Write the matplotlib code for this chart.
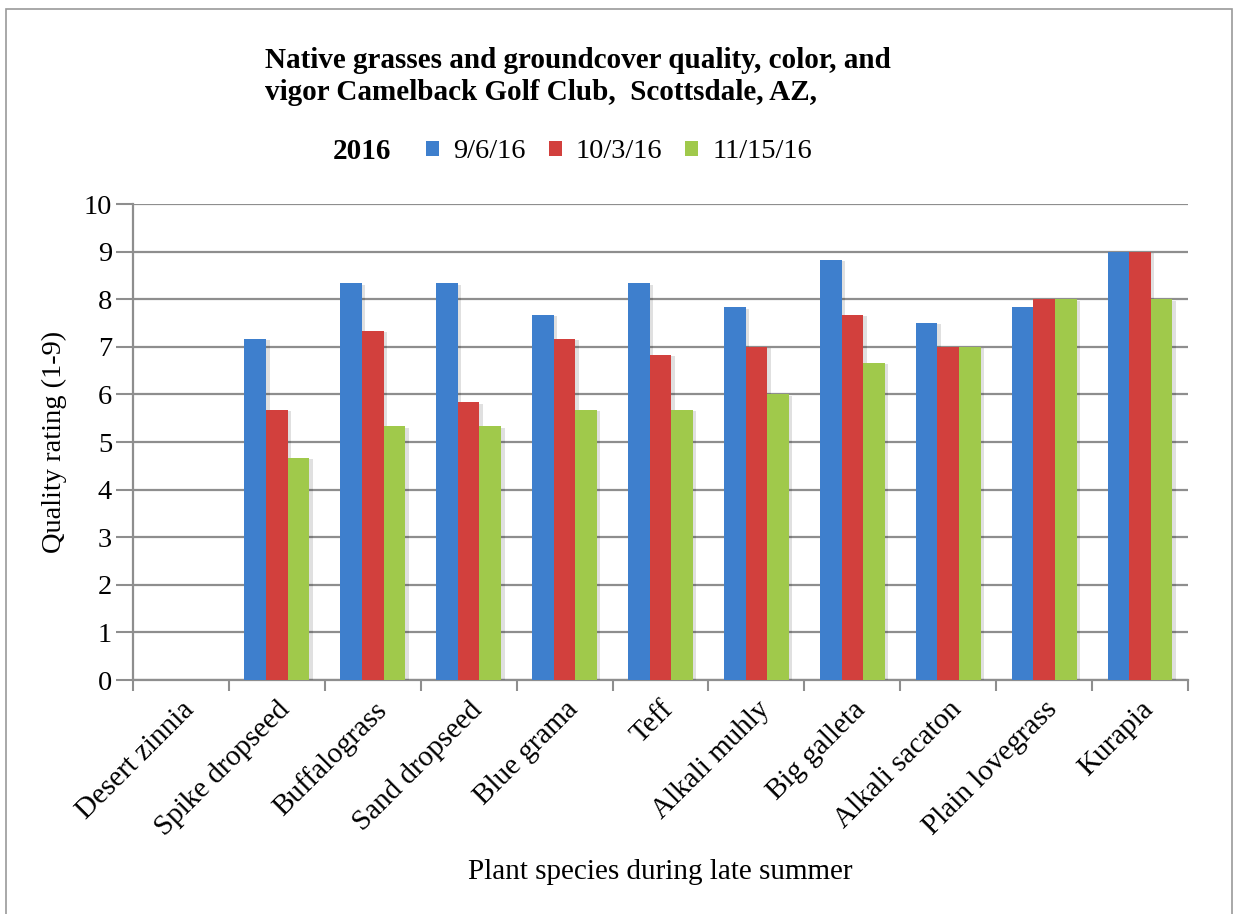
import numpy as np
import matplotlib.pyplot as plt
from matplotlib import patheffects as pe
from matplotlib.patches import Rectangle

species = ['Desert zinnia', 'Spike dropseed', 'Buffalograss', 'Sand dropseed',
           'Blue grama', 'Teff', 'Alkali muhly', 'Big galleta', 'Alkali sacaton',
           'Plain lovegrass', 'Kurapia']
dates = ['9/6/16', '10/3/16', '11/15/16']
sep6 = [0, 7.17, 8.33, 8.33, 7.67, 8.33, 7.83, 8.83, 7.5, 7.83, 9.0]
oct3 = [0, 5.67, 7.33, 5.83, 7.17, 6.83, 7.0, 7.67, 7.0, 8.0, 9.0]
nov15 = [0, 4.67, 5.33, 5.33, 5.67, 5.67, 6.0, 6.67, 7.0, 8.0, 8.0]
colors = ['#3e7fcd', '#d2403d', '#a0c94b']

plt.rcParams['font.family'] = ['Liberation Serif', 'DejaVu Serif']
grid_col = '#8e8e8e'
fs = 20.5

fig = plt.figure(figsize=(12.41, 9.14), dpi=100)
ax = fig.add_axes([133 / 1241, 1 - 680 / 914, (1188 - 133) / 1241, (680 - 204) / 914])

x = np.arange(len(species))
w = 0.225
all_bars = []
for i, (vals, lab) in enumerate(zip([sep6, oct3, nov15], dates)):
    all_bars.append(ax.bar(x + (i - 1) * w, vals, w, color=colors[i], label=lab, zorder=3))

ax.set_xlim(-0.5, len(species) - 0.5)
ax.set_ylim(0, 10)
ax.set_yticks(range(0, 11))
ax.yaxis.grid(True, color=grid_col, linewidth=1.6, zorder=0)
ax.set_axisbelow(True)

ax.set_xticks(x)
ax.set_xticklabels(species, rotation=45, ha='right', rotation_mode='anchor', fontsize=21)
ax.tick_params(axis='x', length=0, pad=12)
ax.set_xticks(np.arange(-0.5, len(species)), minor=True)
ax.tick_params(axis='x', which='minor', length=8, width=1.5, color=grid_col)
ax.tick_params(axis='y', length=12, width=1.5, color=grid_col, labelsize=fs, pad=3)

for s in ['top', 'right']:
    ax.spines[s].set_visible(False)
for s in ['left', 'bottom']:
    ax.spines[s].set_color(grid_col)
    ax.spines[s].set_linewidth(1.6)

ax.set_ylabel('Quality rating (1-9)', fontsize=fs, labelpad=12)
ax.set_xlabel('Plant species during late summer', fontsize=21, labelpad=13)

fig.text(265 / 1241, 1 - 60 / 914, 'Native grasses and groundcover quality, color, and',
         fontsize=21, fontweight='bold', va='center', ha='left')
fig.text(265 / 1241, 1 - 92 / 914, 'vigor Camelback Golf Club,  Scottsdale, AZ,',
         fontsize=21, fontweight='bold', va='center', ha='left')
fig.text(333 / 1241, 1 - 152 / 914, '2016', fontsize=21, fontweight='bold',
         va='center', ha='left')
fig.legend(loc='center left', bbox_to_anchor=(426 / 1241, 1 - 152 / 914), ncol=3,
           frameon=False, fontsize=fs, handlelength=0.46, handleheight=0.46,
           handletextpad=0.5, columnspacing=0.8, borderpad=0, borderaxespad=0)

# soft drop shadow on the bars only (added after the legend so the keys stay flat)
shadow = [pe.SimplePatchShadow(offset=(2.5, -1), shadow_rgbFace='#000000', alpha=0.12), pe.Normal()]
for bars in all_bars:
    for b in bars:
        b.set_path_effects(shadow)

fig.patches.append(Rectangle((0.005, -0.01), 0.988, 1.0, transform=fig.transFigure,
                             fill=False, edgecolor='#9a9a9a', linewidth=1.2))

fig.savefig('out.png', dpi=100)
